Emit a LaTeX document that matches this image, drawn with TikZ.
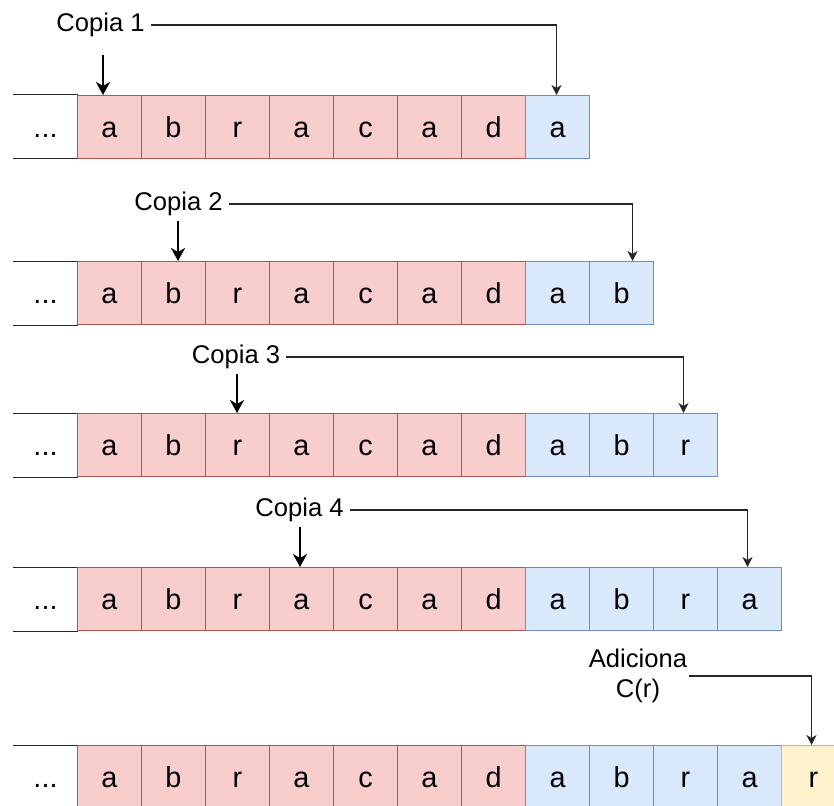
\documentclass[tikz,border=0pt]{standalone}
\usepackage{fontspec}
\setmainfont{Liberation Sans}
\usetikzlibrary{arrows.meta}
\definecolor{redfill}{HTML}{F8CECC}
\definecolor{redline}{HTML}{B85450}
\definecolor{bluefill}{HTML}{DAE8FC}
\definecolor{blueline}{HTML}{6C8EBF}
\definecolor{yelfill}{HTML}{FFF2CC}
\definecolor{yelline}{HTML}{D6B656}
\begin{document}
\begin{tikzpicture}[x=1pt,y=-1pt,
  txt/.style={font=\fontsize{25.6}{30}\selectfont},
  cell/.style={font=\fontsize{28.8}{34}\selectfont, minimum width=64pt, minimum height=63pt, text height=21pt, text depth=0pt, anchor=north west, inner sep=0pt, line width=1pt},
  redcell/.style={cell, draw=redline, fill=redfill},
  bluecell/.style={cell, draw=blueline, fill=bluefill},
  yelcell/.style={cell, draw=yelline, fill=yelfill},
  dotcell/.style={cell},
  edgeline/.style={line width=1pt, draw=black!85},
  lab/.style={txt, inner sep=6pt},
  shortarr/.style={line width=2.2pt, -{Stealth[length=13pt,width=14pt,inset=4pt]}},
  conn/.style={line width=1.3pt, draw=black!85, -{Stealth[length=10pt,width=10pt,inset=3pt]}}
]
\useasboundingbox (0,0) rectangle (834,805);

\foreach \r/\y in {1/95,2/261,3/413,4/567,5/745} {
  \node[dotcell] (r\r d) at (13,\y) {...};
  \draw[edgeline] (r\r d.north west) -- (r\r d.north east) (r\r d.south west) -- (r\r d.south east);
  \foreach \l [count=\i from 0] in {a,b,r,a,c,a,d}
    \node[redcell] (r\r c\i) at (77+64*\i,\y) {\l};
}

% blue cells
\node[bluecell] (r1c7) at (525,95) {a};

\node[bluecell] (r2c7) at (525,261) {a};
\node[bluecell] (r2c8) at (589,261) {b};

\node[bluecell] (r3c7) at (525,413) {a};
\node[bluecell] (r3c8) at (589,413) {b};
\node[bluecell] (r3c9) at (653,413) {r};

\node[bluecell] (r4c7) at (525,567) {a};
\node[bluecell] (r4c8) at (589,567) {b};
\node[bluecell] (r4c9) at (653,567) {r};
\node[bluecell] (r4c10) at (717,567) {a};

\node[bluecell] (r5c7) at (525,745) {a};
\node[bluecell] (r5c8) at (589,745) {b};
\node[bluecell] (r5c9) at (653,745) {r};
\node[bluecell] (r5c10) at (717,745) {a};
\node[yelcell] (r5c11) at (781,745) {r};

% labels
\node[lab] (lab1) at (100.5,25) {Copia 1};
\node[lab] (lab2) at (178.5,204) {Copia 2};
\node[lab] (lab3) at (236,357) {Copia 3};
\node[lab] (lab4) at (299.5,510) {Copia 4};
\node[lab, align=center, inner sep=2pt] (lab5) at (638,676) {Adiciona\\C(r)};

% short arrows
\coordinate (s1) at (103,55);
\coordinate (s2) at (178,221);
\coordinate (s3) at (237,374);
\coordinate (s4) at (300,527);
\draw[shortarr] (s1) -- (s1 |- r1c0.north);
\draw[shortarr] (s2) -- (s2 |- r2c1.north);
\draw[shortarr] (s3) -- (s3 |- r3c2.north);
\draw[shortarr] (s4) -- (s4 |- r4c3.north);

% connectors
\draw[conn] (lab1.east) -| ([xshift=-1pt]r1c7.north);
\draw[conn] (lab2.east) -| ([xshift=11pt]r2c8.north);
\draw[conn] (lab3.east) -| ([xshift=-2pt]r3c9.north);
\draw[conn] (lab4.east) -| ([xshift=-2pt]r4c10.north);
\draw[conn] (lab5.east) -| ([xshift=-2pt]r5c11.north);
\end{tikzpicture}
\end{document}
